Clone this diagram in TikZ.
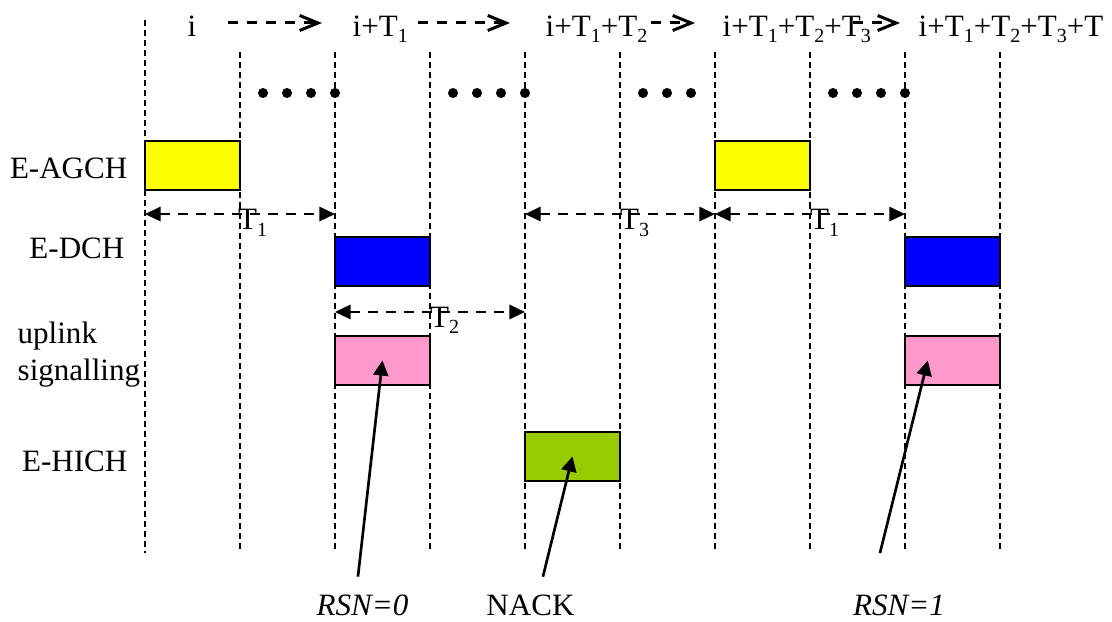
\documentclass[tikz,border=0pt]{standalone}
\usepackage{fontspec}
\setmainfont{Liberation Serif}
\usetikzlibrary{positioning,arrows.meta,calc}

\definecolor{agchyellow}{RGB}{255,255,0}
\definecolor{dchblue}{RGB}{0,0,255}
\definecolor{sigpink}{RGB}{255,153,204}
\definecolor{hichgreen}{RGB}{153,204,0}
\newcommand{\tsub}[1]{\raisebox{-1.8pt}{\fontsize{6}{6}\selectfont #1}}

\begin{document}
\begin{tikzpicture}[
  >=Stealth,
  every node/.style={font=\fontsize{9.3}{11.1}\selectfont, inner sep=0pt},
  slot/.style={draw=black, line width=0.6pt, minimum width=1cm, minimum height=0.516cm},
  vline/.style={black, line width=0.45pt, dash pattern=on 1.8pt off 1.2pt},
  dimarr/.style={{Triangle[length=4.7pt,width=4.3pt]}-{Triangle[length=4.7pt,width=4.3pt]}, line width=0.65pt, dash pattern=on 3pt off 2.4pt},
  steparr/.style={-{Straight Barb[length=5.5pt,width=4.5pt,line width=0.9pt]}, line width=0.9pt, dash pattern=on 3pt off 2.7pt},
  ptr/.style={-{Triangle[length=4.5pt,width=4.5pt]}, line width=0.8pt}
]
  \useasboundingbox (-1.526,0) rectangle (10.179,-6.537);

  % --- channel slots (one TTI wide) ---
  \foreach \name/\x/\y/\col in {agchA/0.5/-1.747/agchyellow, agchB/6.5/-1.747/agchyellow,
      dchA/2.5/-2.753/dchblue, dchB/8.5/-2.753/dchblue,
      sigA/2.5/-3.795/sigpink, sigB/8.5/-3.795/sigpink, hich/4.5/-4.805/hichgreen} {
    \node[slot, fill=\col] (\name) at (\x,\y) {};
  }

  % --- TTI boundaries ---
  \foreach \j in {0,...,9} \coordinate (v\j) at (\j,-0.55);
  \draw[vline] (0,-0.21) -- (0,-5.82);
  \foreach \j in {1,...,9} \draw[vline] (v\j) -- ++(0,-5.27);

  % --- dots between the boundaries ---
  \foreach \c in {2,4,8}
    \foreach \k in {0,...,3} \fill (\c-0.2525*\k,-0.979) circle (0.053);
  \foreach \k in {1,2,3} \fill (6-0.2525*\k,-0.979) circle (0.053);

  % --- channel names ---
  \node[anchor=base east] (lagch) at (-0.179,-1.884) {E-AGCH};
  \node[anchor=base east] (ldch) at (-0.21,-2.726) {E-DCH};
  \node[anchor=west, align=left] (lsig) at (-1.347,-3.732) {uplink\\signalling};
  \node[anchor=base east] (lhich) at (-0.179,-4.968) {E-HICH};

  % --- time instants along the top ---
  \node[anchor=base west] (t0) at (0.442,-0.379) {i};
  \node[anchor=base west] (t1) at (2.179,-0.379) {i+T\tsub{1}};
  \node[anchor=base west] (t2) at (4.211,-0.379) {i+T\tsub{1}+T\tsub{2}};
  \node[anchor=base west] (t3) at (6.074,-0.379) {i+T\tsub{1}+T\tsub{2}+T\tsub{3}};
  \node[anchor=base west] (t4) at (8.137,-0.379) {i+T\tsub{1}+T\tsub{2}+T\tsub{3}+T};
  \draw[steparr] ([shift={(0.33,0.137)}]t0.base east) -- ([shift={(-0.316,0.137)}]t1.base west);
  \draw[steparr] ([shift={(0.1,0.137)}]t1.base east) -- ([shift={(-0.368,0.137)}]t2.base west);
  \draw[steparr] ([shift={(0.03,0.137)}]t2.base east) -- ([shift={(-0.284,0.137)}]t3.base west);
  \draw[steparr] ([shift={(-0.19,0.137)}]t3.base east) -- ([shift={(-0.19,0.137)}]t4.base west);

  % --- delays T1, T2, T3 ---
  \draw[dimarr] ([yshift=-1.703cm]v0) -- ([yshift=-1.703cm]v2)
        node[pos=0.5, anchor=base west, yshift=-0.168cm, xshift=-0.03cm] {T\tsub{1}};
  \draw[dimarr] ([yshift=-1.703cm]v4) -- ([yshift=-1.703cm]v6)
        node[pos=0.5, anchor=base west, yshift=-0.168cm, xshift=-0.01cm] {T\tsub{3}};
  \draw[dimarr] ([yshift=-1.703cm]v6) -- ([yshift=-1.703cm]v8)
        node[pos=0.5, anchor=base west, yshift=-0.168cm, xshift=-0.01cm] {T\tsub{1}};
  \draw[dimarr] ([yshift=-2.734cm]v2) -- ([yshift=-2.734cm]v4)
        node[pos=0.5, anchor=base west, yshift=-0.168cm, xshift=-0.01cm] {T\tsub{2}};

  % --- RSN / NACK pointers ---
  \node[anchor=base] (rsnA) at (2.289,-6.484) {\textit{RSN=0}};
  \node[anchor=base] (nack) at (4.058,-6.484) {NACK};
  \node[anchor=base] (rsnB) at (7.937,-6.484) {\textit{RSN=1}};
  \draw[ptr] ([shift={(-0.047,0.19)}]rsnA.north) -- (sigA.center);
  \draw[ptr] ([shift={(0.131,0.19)}]nack.north) -- (hich.center);
  \draw[ptr] ([shift={(-0.2,0.44)}]rsnB.north) -- ([xshift=-0.26cm]sigB.center);

\end{tikzpicture}
\end{document}
